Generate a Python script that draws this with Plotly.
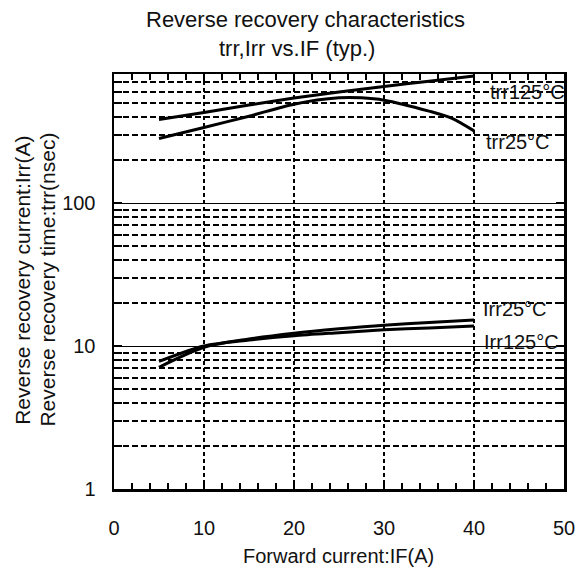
import math
import plotly.graph_objects as go

# ---- data ----
if_trr125 = [5, 10, 15, 20, 25, 30, 35, 40]
trr125 = [385, 430, 485, 543, 598, 655, 712, 775]

if_trr25 = [5, 10, 15, 20, 25, 27.5, 30, 35, 37.5, 40]
trr25 = [283, 338, 405, 492, 545, 545, 525, 440, 393, 320]

if_irr = [5, 10, 15, 20, 25, 30, 35, 40]
irr25 = [7.1, 9.8, 11.2, 12.3, 13.2, 14.0, 14.6, 15.2]
irr125 = [7.8, 10.0, 11.0, 11.8, 12.4, 13.0, 13.4, 13.8]

x_ticks = [0, 10, 20, 30, 40, 50]
y_ticks = [1, 10, 100]
y_ticktext = ["1", "10", "100"]
y_minor = [2, 3, 4, 5, 6, 7, 8, 9, 20, 30, 40, 50, 60, 70, 80, 90,
           200, 300, 400, 500, 600, 700, 800]

labels = ["trr125°C", "trr25°C", "Irr25°C", "Irr125°C"]
label_x = [41.6, 41.1, 40.75, 40.9]
label_y = [597, 268, 18.1, 10.7]

FONT = "Liberation Sans, Arial, sans-serif"

fig = go.Figure()
for xs, ys in [(if_trr125, trr125), (if_trr25, trr25), (if_irr, irr25), (if_irr, irr125)]:
    fig.add_trace(go.Scatter(x=xs, y=ys, mode="lines",
                             line=dict(color="black", width=3, shape="spline", smoothing=0.8),
                             showlegend=False, hoverinfo="skip"))

# annotations on a log axis take log10 coordinates
for t, lx, ly in zip(labels, label_x, label_y):
    fig.add_annotation(x=lx, y=math.log10(ly), xref="x", yref="y", text=t, showarrow=False,
                       xanchor="left", yanchor="middle",
                       font=dict(family=FONT, size=20, color="#111"))

# horizontal compensation for the observed rendering scale
K = 1.015
W, H = round(578 * K), 572
L, T = round(112 * K), 74
pw, ph = round(454 * K), 415
R, B = W - L - pw, H - T - ph

# helpers: target-pixel -> paper coordinates
def px(xp):
    return (xp - 112) / 454

def py(yp):
    return (489 - yp) / 415

fig.add_annotation(x=px(305), y=py(20), xref="paper", yref="paper",
                   text="Reverse recovery characteristics", showarrow=False,
                   xanchor="center", yanchor="middle",
                   font=dict(family=FONT, size=22, color="#111"))
fig.add_annotation(x=px(297), y=py(49), xref="paper", yref="paper",
                   text="trr,Irr vs.IF (typ.)", showarrow=False,
                   xanchor="center", yanchor="middle",
                   font=dict(family=FONT, size=22, color="#111"))
fig.add_annotation(x=px(338), y=py(556), xref="paper", yref="paper",
                   text="Forward current:IF(A)", showarrow=False,
                   xanchor="center", yanchor="middle",
                   font=dict(family=FONT, size=20, color="#111"))
fig.add_annotation(x=px(19), y=py(280), xref="paper", yref="paper",
                   text="Reverse recovery current:Irr(A)", showarrow=False,
                   textangle=-90, xanchor="center", yanchor="middle",
                   font=dict(family=FONT, size=21, color="#111"))
fig.add_annotation(x=px(44), y=py(280), xref="paper", yref="paper",
                   text="Reverse recovery time:trr(nsec)", showarrow=False,
                   textangle=-90, xanchor="center", yanchor="middle",
                   font=dict(family=FONT, size=21, color="#111"))

fig.update_layout(
    width=W, height=H, autosize=False,
    margin=dict(l=L, r=R, t=T, b=B, pad=0),
    paper_bgcolor="white", plot_bgcolor="white",
    font=dict(family=FONT, size=20, color="#111"),
    xaxis=dict(range=[0, 50], tickvals=x_ticks, ticks="inside", ticklen=9, tickwidth=2.5,
               tickcolor="black", showline=True, linecolor="black", linewidth=2.5,
               mirror="ticks", showgrid=True, gridcolor="black", gridwidth=2,
               griddash="4px,3px", zeroline=False, ticklabelstandoff=19,
               ticklabeloverflow="allow",
               tickfont=dict(family=FONT, size=20, color="#111"),
               minor=dict(dtick=2, ticks="inside", ticklen=6, tickwidth=2,
                          tickcolor="black", showgrid=False)),
    yaxis=dict(type="log", range=[0, 2.90309], tickvals=y_ticks, ticktext=y_ticktext,
               ticks="inside", ticklen=8, tickwidth=2, tickcolor="black",
               showline=True, linecolor="black", linewidth=2.5, mirror="ticks",
               showgrid=True, gridcolor="black", gridwidth=1, zeroline=False,
               ticklabelstandoff=12,
               tickfont=dict(family=FONT, size=20, color="#111"),
               minor=dict(tickvals=y_minor, ticks="inside", ticklen=8, tickwidth=2,
                          tickcolor="black", showgrid=True, gridcolor="black",
                          gridwidth=2, griddash="6px,3px")),
)

fig.write_html("out.html",
               config={"displayModeBar": False, "responsive": False, "staticPlot": True},
               post_script="document.body.style.margin='0';document.body.style.overflow='hidden';")
